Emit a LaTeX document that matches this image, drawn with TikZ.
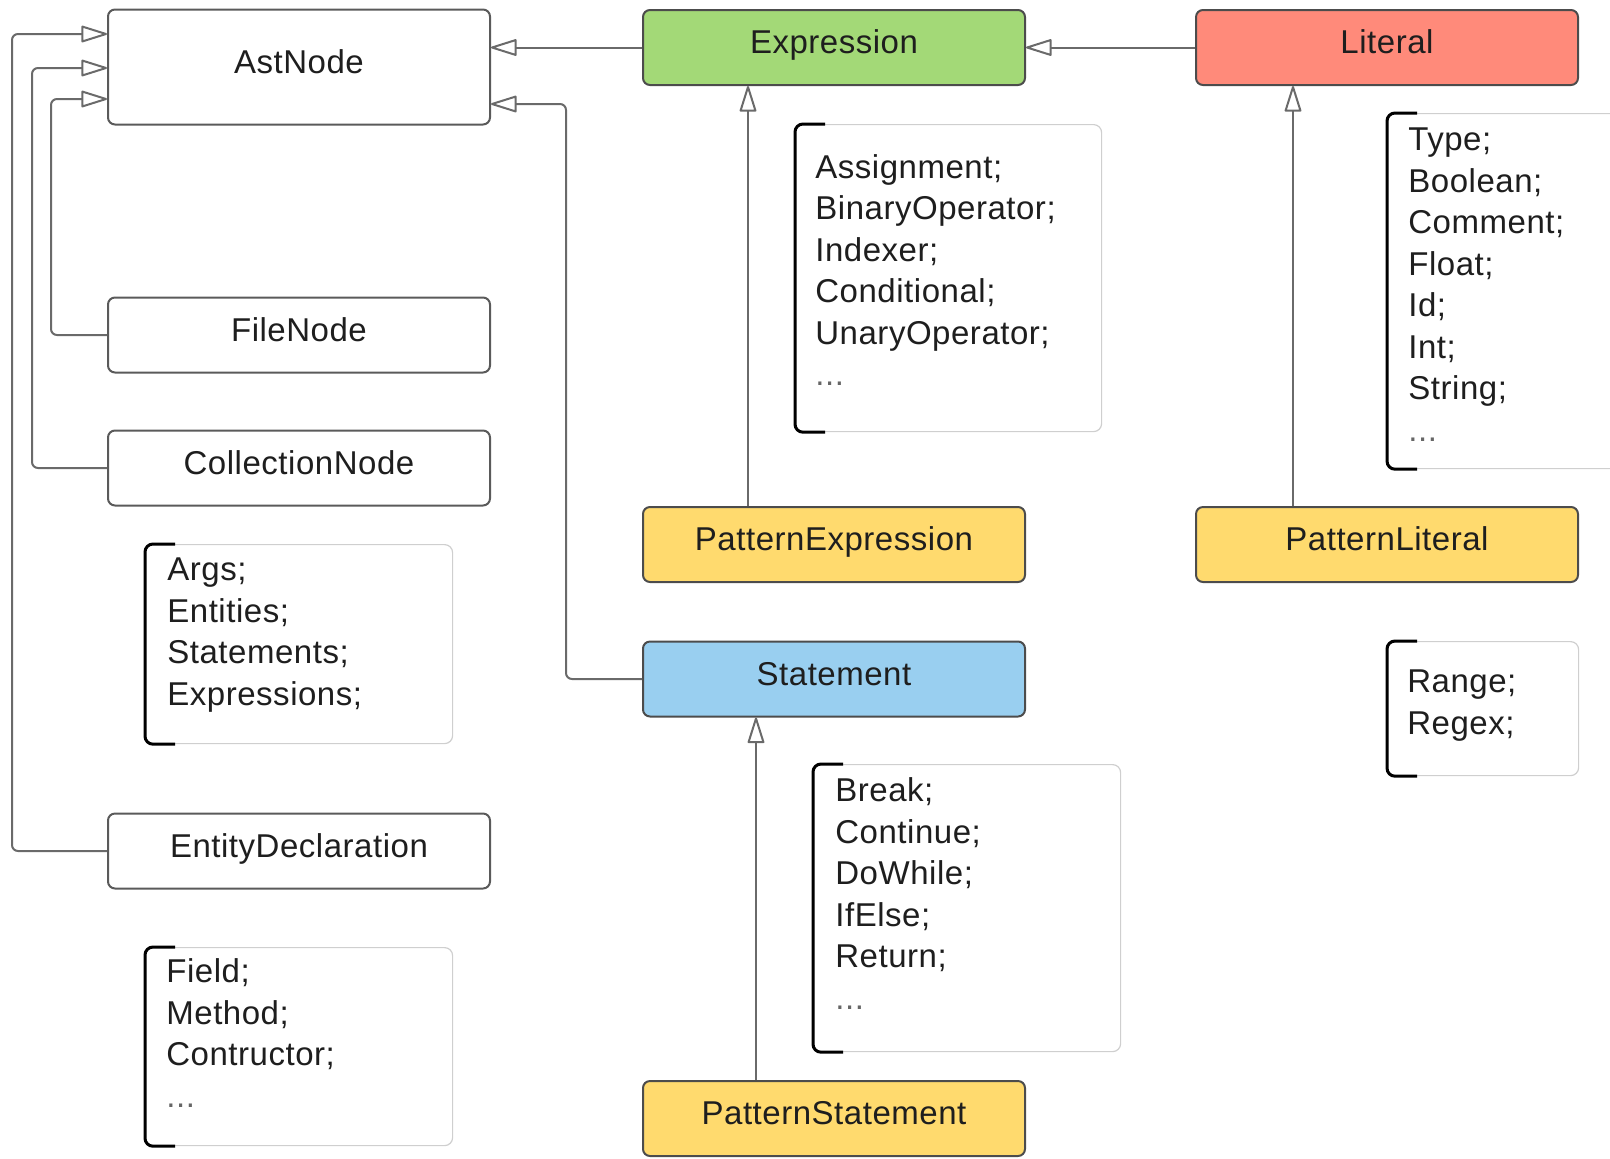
\documentclass[tikz,border=0pt]{standalone}
\usepackage{fontspec}
\setmainfont[LetterSpace=1.6]{Liberation Sans}
\usetikzlibrary{arrows.meta,calc}
\definecolor{txt}{HTML}{1E1E1E}
\definecolor{edgec}{HTML}{6A6A6A}
\definecolor{bord}{HTML}{5A5A5A}
\definecolor{cgreen}{HTML}{A3D977}
\definecolor{cred}{HTML}{FF8A7A}
\definecolor{cblue}{HTML}{99CFF0}
\definecolor{cyellow}{HTML}{FFDA6E}
\definecolor{frm}{HTML}{CFCFCF}
\definecolor{dotc}{HTML}{666666}
\begin{document}
\begin{tikzpicture}[x=0.5pt,y=-0.5pt,
  every node/.style={font=\fontsize{16.5}{20.75}\selectfont, text=txt},
  cls/.style={draw=bord, line width=1pt, rounded corners=3.5pt, fill=white,
    minimum width=191pt, minimum height=37.5pt, inner sep=0pt,
    text height=0.78em, text depth=0.15em},
  colcls/.style={cls, draw=black!70},
  lframe/.style={draw=frm, line width=0.6pt, rounded corners=4pt, inner sep=0pt, anchor=north west},
  ltext/.style={anchor=north west, align=left, inner sep=0pt},
  brk/.style={draw=black, line width=1.5pt, rounded corners=4pt},
  inh/.style={draw=edgec, line width=1pt, rounded corners=3pt,
    -{Triangle[open, length=14pt, width=8.5pt, round=false]}},
]
\path[use as bounding box] (0,0) rectangle (1610,1158);
\clip (0,0) rectangle (1610,1158);

% class boxes
\node[cls, minimum height=57.5pt] (ast) at (299,67) {AstNode};
\node[colcls, fill=cgreen] (ex) at (834,47.5) {Expression};
\node[colcls, fill=cred] (li) at (1387,47.5) {Literal};
\node[cls] (fn) at (299,335) {FileNode};
\node[cls] (cn) at (299,468) {CollectionNode};
\node[cls] (ed) at (299,851) {EntityDeclaration};
\node[colcls, fill=cyellow] (pe) at (834,544.5) {PatternExpression};
\node[colcls, fill=cblue] (st) at (834,679) {Statement};
\node[colcls, fill=cyellow] (ps) at (834,1118.5) {PatternStatement};
\node[colcls, fill=cyellow] (pl) at (1387,544.5) {PatternLiteral};

% list frames
\node[lframe, minimum width=153pt, minimum height=153.5pt] (fex) at (795,124) {};
\node[lframe, minimum width=131.5pt, minimum height=177.5pt] (fli) at (1387,113) {};
\node[lframe, minimum width=153.5pt, minimum height=99.5pt] (fcn) at (145,544) {};
\node[lframe, minimum width=153.5pt, minimum height=99pt] (fed) at (145,947) {};
\node[lframe, minimum width=153.5pt, minimum height=143.5pt] (fst) at (813,764) {};
\node[lframe, minimum width=95.5pt, minimum height=67pt] (fpl) at (1387,641) {};

\foreach \f in {fex,fli,fcn,fed,fst,fpl}{
  \draw[brk] ($(\f.north west)+(30,0)$) -- (\f.north west) -- (\f.south west) -- ($(\f.south west)+(30,0)$);
}

% list texts
\node[ltext] (tex) at ($(fex.north west)+(20,30)$) {Assignment;\\BinaryOperator;\\Indexer;\\Conditional;\\UnaryOperator;\\\textcolor{dotc}{...}};
\node[ltext] (tli) at ($(fli.north west)+(21,14.5)$) {Type;\\Boolean;\\Comment;\\Float;\\Id;\\Int;\\String;\\\textcolor{dotc}{...}};
\node[ltext] (tcn) at ($(fcn.north west)+(22,13.5)$) {Args;\\Entities;\\Statements;\\Expressions;};
\node[ltext] (ted) at ($(fed.north west)+(21,11.5)$) {Field;\\Method;\\Contructor;\\\textcolor{dotc}{...}};
\node[ltext] (tst) at ($(fst.north west)+(22,13.5)$) {Break;\\Continue;\\DoWhile;\\IfElse;\\Return;\\\textcolor{dotc}{...}};
\node[ltext] (tpl) at ($(fpl.north west)+(20,28.5)$) {Range;\\Regex;};

% bend points
\coordinate (b1) at (12,34);
\coordinate (b2) at (32,68);
\coordinate (b3) at (51,99);
\coordinate (b4) at (566,104);
\coordinate (v1) at (748,300);
\coordinate (v2) at (1293,300);
\coordinate (v3) at (756,900);

% inheritance connectors
\draw[inh] (ed.west) -| (b1) -- (ast.west |- b1);
\draw[inh] (cn.west) -| (b2) -- (ast.west |- b2);
\draw[inh] (fn.west) -| (b3) -- (ast.west |- b3);
\draw[inh] (st.west) -| (b4) -- (ast.east |- b4);
\draw[inh] (ex.west) -- (ast.east |- ex.west);
\draw[inh] (li.west) -- (ex.east |- li.west);
\draw[inh] (v1 |- pe.north) -- (v1 |- ex.south);
\draw[inh] (v2 |- pl.north) -- (v2 |- li.south);
\draw[inh] (v3 |- ps.north) -- (v3 |- st.south);
\end{tikzpicture}
\end{document}
